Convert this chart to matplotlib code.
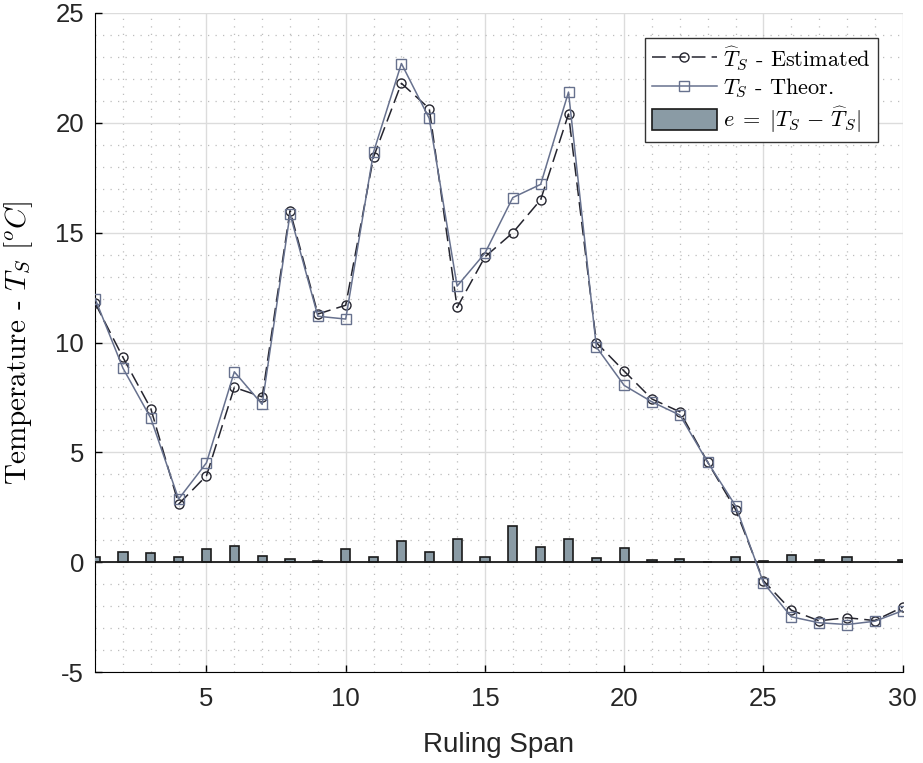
import numpy as np
import matplotlib.pyplot as plt
from matplotlib.ticker import MultipleLocator

plt.rcParams['mathtext.fontset'] = 'cm'
plt.rcParams['axes.unicode_minus'] = False

span = np.arange(1, 31)
t_est = [11.8, 9.33, 7.0, 2.65, 3.94, 7.96, 7.53, 16.0, 11.3, 11.7,
         18.45, 21.8, 20.65, 11.6, 13.9, 15.0, 16.5, 20.4, 10.0, 8.7,
         7.43, 6.85, 4.55, 2.4, -0.84, -2.18, -2.66, -2.52, -2.65, -2.04]
t_theor = [12.0, 8.84, 6.56, 2.88, 4.53, 8.67, 7.19, 15.85, 11.2, 11.07,
           18.67, 22.7, 20.2, 12.57, 14.07, 16.6, 17.2, 21.4, 9.8, 8.05,
           7.3, 6.7, 4.55, 2.57, -0.93, -2.48, -2.75, -2.83, -2.68, -2.2]
err = [0.26, 0.46, 0.41, 0.26, 0.62, 0.76, 0.29, 0.17, 0.07, 0.6,
       0.26, 0.96, 0.46, 1.04, 0.23, 1.67, 0.7, 1.04, 0.2, 0.64,
       0.1, 0.14, 0.03, 0.23, 0.07, 0.33, 0.1, 0.26, 0.02, 0.12]

fig = plt.figure(figsize=(9.23, 7.63), dpi=100)
ax = fig.add_axes([0.103, 0.119, 0.875, 0.864])

bars = ax.bar(span, err, width=0.33, color='#8a9ba5', edgecolor='#1a1a1a', linewidth=1.2,
              zorder=3)
ax.axhline(0, color='#1a1a1a', lw=1.3, zorder=3)
l_est, = ax.plot(span, t_est, color='#25252f', lw=1.1, dashes=(9, 4), marker='o', ms=6.5,
                 mfc='none', mec='#25252f', mew=1.0, zorder=4)
l_th, = ax.plot(span, t_theor, color='#67718e', lw=1.1, marker='s', ms=6.5,
                mfc='none', mec='#67718e', mew=1.0, zorder=5)

ax.set_xlim(1, 30)
ax.set_ylim(-5, 25)
ax.xaxis.set_major_locator(MultipleLocator(5))
ax.yaxis.set_major_locator(MultipleLocator(5))
ax.xaxis.set_minor_locator(MultipleLocator(1))
ax.yaxis.set_minor_locator(MultipleLocator(1))
ax.grid(which='major', color='#dcdcdc', lw=1.0, zorder=0)
ax.grid(which='minor', color='#bdbdbd', lw=0.9, ls=(0, (1, 5)), zorder=0)
ax.tick_params(which='major', direction='in', length=5, width=1,
               labelsize=18.5, labelcolor='#262626')
ax.tick_params(axis='x', pad=11)
ax.tick_params(axis='y', pad=8)
ax.tick_params(which='minor', length=0)
for lab in ax.get_xticklabels() + ax.get_yticklabels():
    lab.set_fontfamily('Liberation Sans')
ax.spines['top'].set_visible(False)
ax.spines['right'].set_visible(False)

ax.set_xlabel('Ruling Span', fontsize=20, fontfamily='Liberation Sans', color='#262626',
              labelpad=15)
ax.set_ylabel(r'Temperature - $T_S$ [$^oC$]', fontsize=21, fontfamily='cmr10')
ax.yaxis.set_label_coords(-0.074, 0.5)

leg = ax.legend([l_est, l_th, bars],
                [r'$\widehat{T}_S$ - Estimated', r'$T_S$ - Theor.',
                 r'$e\;=\;|T_S\,-\,\widehat{T}_S|$'],
                loc='upper right', fontsize=16, frameon=True, fancybox=False,
                edgecolor='#333333', framealpha=1, borderpad=0.3, handlelength=2.9,
                handleheight=1.1, labelspacing=0.2, handletextpad=0.3,
                borderaxespad=0, bbox_to_anchor=(0.969, 0.962))
leg.get_frame().set_linewidth(1.0)
for t in leg.get_texts():
    t.set_fontfamily('cmr10')

fig.savefig('out.png', dpi=100)
